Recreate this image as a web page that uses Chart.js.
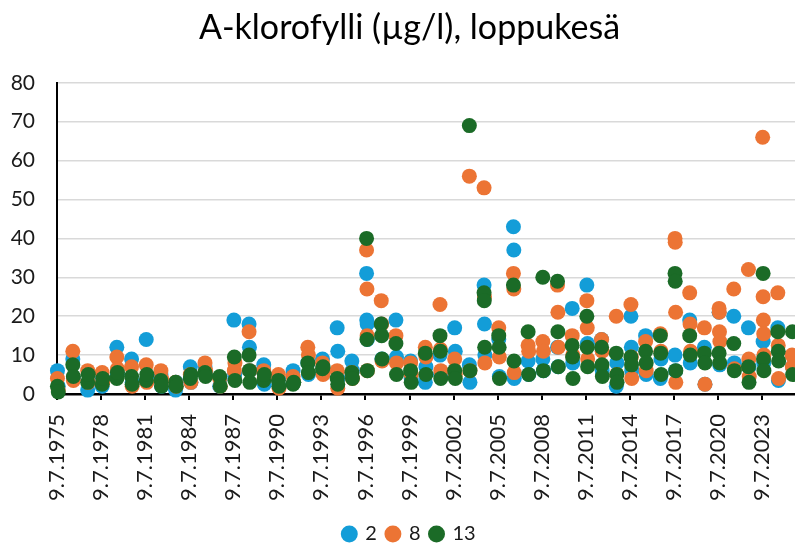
<!DOCTYPE html>
<html>
<head>
<meta charset="utf-8">
<title>A-klorofylli, loppukesä</title>
<script src="https://cdn.jsdelivr.net/npm/chart.js@4/dist/chart.umd.min.js"></script>
<style>
  html, body { margin: 0; padding: 0; background: #fff; overflow: hidden; }
  #wrap { width: 795px; height: 545px; }
</style>
</head>
<body>
<div id="wrap"><canvas id="chl" width="795" height="545"></canvas></div>
<script>
// sampling points per site: [date, chlorophyll a µg/l]
const site2 = [
  ['1975-07-20', 6], ['1975-08-10', 2],
  ['1976-08-05', 9], ['1976-08-20', 4],
  ['1977-08-10', 1], ['1977-08-25', 3],
  ['1978-08-05', 2], ['1978-08-20', 4],
  ['1979-08-05', 12], ['1979-08-20', 5],
  ['1980-08-05', 9], ['1980-08-20', 3],
  ['1981-08-05', 14], ['1981-08-20', 4],
  ['1982-08-05', 5], ['1982-08-20', 2],
  ['1983-08-05', 1], ['1983-08-20', 3],
  ['1984-08-05', 7], ['1984-08-20', 3],
  ['1985-08-05', 7], ['1985-08-20', 5],
  ['1986-08-05', 2], ['1986-08-20', 4],
  ['1987-07-25', 19], ['1987-08-15', 5],
  ['1988-08-05', 18], ['1988-08-15', 12], ['1988-08-25', 6],
  ['1989-08-05', 7.5], ['1989-08-20', 2.5],
  ['1990-08-05', 4], ['1990-08-20', 2],
  ['1991-08-05', 6], ['1991-08-20', 3],
  ['1992-08-05', 8], ['1992-08-20', 5],
  ['1993-08-05', 9], ['1993-08-20', 6],
  ['1994-08-05', 17], ['1994-08-20', 11], ['1994-08-25', 4],
  ['1995-08-05', 8.5], ['1995-08-20', 6],
  ['1996-08-05', 31], ['1996-08-10', 19], ['1996-08-20', 18], ['1996-08-25', 14],
  ['1997-08-05', 18], ['1997-08-20', 9],
  ['1998-08-05', 19], ['1998-08-20', 9.5],
  ['1999-08-05', 8.5], ['1999-08-20', 4],
  ['2000-08-05', 3], ['2000-08-20', 7],
  ['2001-08-05', 10], ['2001-08-20', 5],
  ['2002-08-05', 17], ['2002-08-20', 11],
  ['2003-08-05', 7.5], ['2003-08-20', 3],
  ['2004-08-05', 28], ['2004-08-15', 18], ['2004-08-25', 10],
  ['2005-08-05', 14], ['2005-08-20', 4.5],
  ['2006-08-05', 43], ['2006-08-15', 37], ['2006-08-25', 4],
  ['2007-08-05', 8.5], ['2007-08-20', 5],
  ['2008-08-05', 9], ['2008-08-20', 6],
  ['2009-08-05', 12], ['2009-08-20', 7],
  ['2010-08-05', 22], ['2010-08-20', 8],
  ['2011-08-05', 28], ['2011-08-20', 13],
  ['2012-08-05', 14], ['2012-08-20', 6],
  ['2013-08-05', 2], ['2013-08-20', 8],
  ['2014-08-05', 20], ['2014-08-15', 12], ['2014-08-25', 6],
  ['2015-08-05', 15], ['2015-08-20', 5],
  ['2016-08-05', 4], ['2016-08-20', 9],
  ['2017-08-05', 10], ['2017-08-20', 6],
  ['2018-08-05', 19], ['2018-08-20', 8],
  ['2019-08-05', 12], ['2019-08-20', 2.5],
  ['2020-08-05', 21], ['2020-08-20', 7.5],
  ['2021-08-05', 20], ['2021-08-20', 8],
  ['2022-08-05', 17], ['2022-08-20', 7],
  ['2023-08-05', 13.5], ['2023-08-20', 8],
  ['2024-08-05', 17], ['2024-08-20', 3.5],
  ['2025-08-05', 7]
];

const site8 = [
  ['1975-07-20', 4], ['1975-08-10', 1],
  ['1976-08-05', 11], ['1976-08-20', 3.5],
  ['1977-08-10', 6], ['1977-08-25', 3],
  ['1978-08-05', 5.5], ['1978-08-20', 3],
  ['1979-08-05', 9.5], ['1979-08-20', 6.5],
  ['1980-08-05', 7], ['1980-08-20', 2],
  ['1981-08-05', 7.5], ['1981-08-20', 3],
  ['1982-08-05', 6], ['1982-08-20', 4],
  ['1983-08-05', 3], ['1983-08-20', 2],
  ['1984-08-05', 5], ['1984-08-20', 3],
  ['1985-08-05', 8], ['1985-08-20', 6],
  ['1986-08-05', 4], ['1986-08-20', 2],
  ['1987-08-05', 6], ['1987-08-20', 8],
  ['1988-08-05', 16], ['1988-08-20', 6],
  ['1989-08-05', 6], ['1989-08-20', 4],
  ['1990-08-05', 5], ['1990-08-20', 1.5],
  ['1991-08-05', 4.5], ['1991-08-20', 3],
  ['1992-08-05', 12], ['1992-08-20', 10],
  ['1993-08-05', 8], ['1993-08-20', 5],
  ['1994-08-05', 6], ['1994-08-20', 1.5],
  ['1995-08-05', 5.5], ['1995-08-20', 4],
  ['1996-08-05', 37], ['1996-08-15', 27], ['1996-08-20', 15], ['1996-08-25', 6],
  ['1997-08-05', 24], ['1997-08-15', 18], ['1997-08-25', 8.5],
  ['1998-08-05', 15], ['1998-08-20', 8],
  ['1999-08-05', 8], ['1999-08-20', 5],
  ['2000-08-05', 12], ['2000-08-20', 9.5],
  ['2001-08-05', 23], ['2001-08-15', 11.5], ['2001-08-25', 6],
  ['2002-08-05', 9], ['2002-08-20', 5],
  ['2003-08-05', 56], ['2003-08-20', 6],
  ['2004-08-05', 53], ['2004-08-15', 25], ['2004-08-25', 8],
  ['2005-08-05', 17], ['2005-08-20', 9.5],
  ['2006-08-05', 31], ['2006-08-15', 27], ['2006-08-25', 5.5],
  ['2007-08-05', 12.5], ['2007-08-20', 11],
  ['2008-08-05', 13.5], ['2008-08-20', 11],
  ['2009-08-05', 28], ['2009-08-15', 21], ['2009-08-25', 12],
  ['2010-08-05', 15], ['2010-08-20', 10],
  ['2011-08-05', 24], ['2011-08-15', 17], ['2011-08-25', 9],
  ['2012-08-05', 14], ['2012-08-20', 11],
  ['2013-08-05', 20], ['2013-08-20', 5],
  ['2014-08-05', 23], ['2014-08-15', 9.5], ['2014-08-25', 4],
  ['2015-08-05', 13.5], ['2015-08-20', 6],
  ['2016-08-05', 15.5], ['2016-08-20', 11],
  ['2017-08-05', 40], ['2017-08-10', 39], ['2017-08-20', 21], ['2017-08-25', 3],
  ['2018-08-05', 26], ['2018-08-15', 18], ['2018-08-25', 11],
  ['2019-08-05', 17], ['2019-08-20', 2.5],
  ['2020-08-05', 22], ['2020-08-10', 21], ['2020-08-15', 16], ['2020-08-25', 13.5],
  ['2021-08-05', 27], ['2021-08-20', 6.5],
  ['2022-08-05', 32], ['2022-08-15', 9], ['2022-08-25', 4.5],
  ['2023-07-25', 66], ['2023-08-05', 25], ['2023-08-12', 19], ['2023-08-20', 15.5], ['2023-08-25', 10],
  ['2024-08-05', 26], ['2024-08-15', 12.5], ['2024-08-25', 4],
  ['2025-07-25', 10], ['2025-08-01', 7]
];

const site13 = [
  ['1975-07-20', 2], ['1975-08-10', 0.5],
  ['1976-08-05', 7.5], ['1976-08-20', 4.5],
  ['1977-08-10', 3], ['1977-08-25', 5],
  ['1978-08-05', 2.5], ['1978-08-20', 4],
  ['1979-08-05', 4], ['1979-08-20', 5.5],
  ['1980-08-05', 4.5], ['1980-08-20', 2.5],
  ['1981-08-05', 3.5], ['1981-08-20', 5],
  ['1982-08-05', 3.5], ['1982-08-20', 2],
  ['1983-08-05', 3], ['1983-08-20', 2],
  ['1984-08-05', 4], ['1984-08-20', 5],
  ['1985-08-05', 5.5], ['1985-08-20', 4.5],
  ['1986-08-05', 4.5], ['1986-08-20', 2],
  ['1987-08-05', 9.5], ['1987-08-20', 3.5],
  ['1988-08-05', 10], ['1988-08-15', 6], ['1988-08-25', 3],
  ['1989-08-05', 3.5], ['1989-08-20', 5],
  ['1990-08-05', 3.5], ['1990-08-20', 2],
  ['1991-08-05', 2.5], ['1991-08-20', 3],
  ['1992-08-05', 8], ['1992-08-20', 5.5],
  ['1993-08-05', 6.5], ['1993-08-20', 7],
  ['1994-08-05', 4], ['1994-08-20', 2.5],
  ['1995-08-05', 5.5], ['1995-08-20', 4],
  ['1996-08-05', 40], ['1996-08-15', 14], ['1996-08-25', 6],
  ['1997-08-05', 18], ['1997-08-15', 15], ['1997-08-25', 9],
  ['1998-08-05', 13], ['1998-08-20', 5],
  ['1999-08-05', 6], ['1999-08-20', 3],
  ['2000-08-05', 10.5], ['2000-08-20', 5],
  ['2001-08-05', 15], ['2001-08-15', 11], ['2001-08-25', 4],
  ['2002-08-05', 6], ['2002-08-20', 4],
  ['2003-08-05', 69], ['2003-08-20', 6],
  ['2004-08-05', 26], ['2004-08-10', 24], ['2004-08-20', 12],
  ['2005-08-05', 15], ['2005-08-15', 12], ['2005-08-25', 4],
  ['2006-08-05', 28], ['2006-08-20', 8.5],
  ['2007-08-05', 16], ['2007-08-20', 5],
  ['2008-08-05', 30], ['2008-08-20', 6],
  ['2009-08-05', 29], ['2009-08-15', 16], ['2009-08-25', 7],
  ['2010-08-05', 12.5], ['2010-08-15', 9.5], ['2010-08-25', 4],
  ['2011-08-05', 20], ['2011-08-15', 12], ['2011-08-25', 7],
  ['2012-08-05', 12], ['2012-08-15', 7.5], ['2012-08-25', 4.5],
  ['2013-08-05', 10.5], ['2013-08-20', 5], ['2013-08-25', 3],
  ['2014-08-05', 9.5], ['2014-08-20', 7.5],
  ['2015-08-05', 11], ['2015-08-20', 8],
  ['2016-08-05', 15], ['2016-08-15', 10.5], ['2016-08-25', 5],
  ['2017-08-05', 31], ['2017-08-10', 29], ['2017-08-25', 6],
  ['2018-08-05', 15], ['2018-08-20', 10],
  ['2019-08-05', 10.5], ['2019-08-20', 8],
  ['2020-08-05', 10.5], ['2020-08-20', 8],
  ['2021-08-05', 13], ['2021-08-20', 6],
  ['2022-08-05', 7], ['2022-08-20', 3],
  ['2023-08-05', 31], ['2023-08-15', 9], ['2023-08-25', 6],
  ['2024-08-05', 16], ['2024-08-15', 11], ['2024-08-25', 8.5],
  ['2025-08-05', 16], ['2025-08-10', 5]
];

const siteNames = ['2', '8', '13'];
const siteColors = ['#139dd8', '#ec7434', '#1b6b27'];
const tickYears = [1975, 1978, 1981, 1984, 1987, 1990, 1993, 1996, 1999, 2002, 2005, 2008, 2011, 2014, 2017, 2020, 2023];
const yTicks = [0, 10, 20, 30, 40, 50, 60, 70, 80];

const xMin = Date.UTC(1975, 6, 9);
const xMax = Date.UTC(2025, 9, 6);
const FONT = 'Lato, "Open Sans", sans-serif';

function toPoints(rows) {
    return rows.map(function (r) {
        return { x: Date.parse(r[0]), y: r[1] };
    });
}

function fmtDate(ms) {
    const d = new Date(ms);
    return d.getUTCDate() + '.' + (d.getUTCMonth() + 1) + '.' + d.getUTCFullYear();
}

const allSites = [site2, site8, site13];

document.addEventListener('DOMContentLoaded', function () {
    const ctx = document.getElementById('chl').getContext('2d');

    const datasets = allSites.map(function (rows, i) {
        return {
            label: siteNames[i],
            data: toPoints(rows),
            backgroundColor: siteColors[i],
            borderWidth: 0,
            pointRadius: 7.5,
            pointHoverRadius: 7.5,
            order: allSites.length - i,   // later sites drawn on top
            clip: false
        };
    });

    new Chart(ctx, {
        type: 'scatter',
        data: { datasets: datasets },
        options: {
            responsive: false,
            animation: false,
            devicePixelRatio: 1,
            layout: {
                autoPadding: false,
                // negative right padding nudges title and legend to the right
                padding: { left: 0, right: -24, top: 0, bottom: -9 }
            },
            plugins: {
                title: {
                    display: true,
                    text: 'A-klorofylli (µg/l), loppukesä',
                    color: '#000',
                    font: { family: FONT, size: 34, weight: 'normal' },
                    padding: { top: 8, bottom: 34 }
                },
                legend: {
                    position: 'bottom',
                    labels: {
                        usePointStyle: true,
                        pointStyle: 'circle',
                        boxWidth: 12,
                        boxHeight: 12,
                        padding: 10,
                        color: '#1a1a1a',
                        font: { family: FONT, size: 20 },
                        sort: function (a, b) { return a.datasetIndex - b.datasetIndex; }
                    }
                },
                tooltip: { enabled: false }
            },
            scales: {
                x: {
                    type: 'linear',
                    min: xMin,
                    max: xMax,
                    afterBuildTicks: function (scale) {
                        scale.ticks = tickYears.map(function (y) {
                            return { value: Date.UTC(y, 6, 9) };
                        });
                    },
                    afterFit: function (scale) {
                        scale.height = 120;
                        scale.paddingLeft = 0;
                        scale.paddingRight = 0;
                    },
                    grid: {
                        display: true,
                        drawOnChartArea: false,
                        drawTicks: true,
                        tickLength: 6,
                        color: '#000',
                        lineWidth: 2
                    },
                    border: { display: true, color: '#000', width: 2.5 },
                    ticks: {
                        autoSkip: false,
                        minRotation: 90,
                        maxRotation: 90,
                        padding: 14,
                        color: '#1a1a1a',
                        font: { family: FONT, size: 22 },
                        callback: function (v) { return fmtDate(v); }
                    }
                },
                y: {
                    min: 0,
                    max: 80,
                    afterBuildTicks: function (scale) {
                        scale.ticks = yTicks.map(function (v) { return { value: v }; });
                    },
                    afterFit: function (scale) { scale.width = 57; },
                    grid: {
                        color: '#d9d9d9',
                        lineWidth: 1.5,
                        drawTicks: false
                    },
                    border: { display: true, color: '#000', width: 2 },
                    ticks: {
                        padding: 22,
                        color: '#1a1a1a',
                        font: { family: FONT, size: 21 }
                    }
                }
            }
        }
    });
});
</script>
</body>
</html>
